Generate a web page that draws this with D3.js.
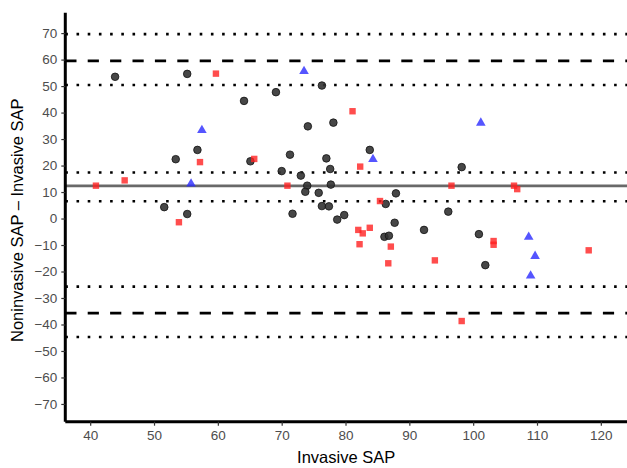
<!DOCTYPE html>
<html><head><meta charset="utf-8">
<script src="https://cdn.jsdelivr.net/npm/d3@7"></script>
<style>body{margin:0;background:#fff;}svg{display:block;font-family:"Liberation Sans",Arial,sans-serif;}</style>
</head><body><svg id="c" width="627" height="468"></svg>
<script>
const xTicks = [40,50,60,70,80,90,100,110,120];
const yTicks = [-70,-60,-50,-40,-30,-20,-10,0,10,20,30,40,50,60,70];
// group 1: dark circles
const circX = [43.9,55.2,56.8,53.4,69.1,64.1,76.3,74.1,78.1,71.3,65.1,77.0,77.6,70.0,73.0,83.8,98.2,74.0,77.7,73.7,75.8,76.3,77.4,71.7,78.7,79.8,51.6,55.2,87.9,86.3,87.7,86.1,86.8,92.3,96.1,100.9,101.9];
const circY = [53.5,54.6,25.9,22.4,47.7,44.4,50.2,34.8,36.2,24.1,21.6,22.7,18.7,17.9,16.2,25.9,19.4,12.4,12.8,10.1,9.7,4.7,4.6,1.8,-0.4,1.3,4.3,1.7,9.5,5.5,-1.6,-6.9,-6.5,-4.3,2.6,-5.9,-17.6];
// group 2: red squares
const sqX = [40.9,45.4,53.9,57.2,59.7,65.7,70.9,81.1,82.3,96.6,106.4,106.9,85.4,82.0,82.7,83.8,82.2,87.1,86.7,94.0,103.2,103.2,118.1,98.2];
const sqY = [12.4,14.4,-1.4,21.3,54.7,22.5,12.4,40.5,19.6,12.4,12.4,11.1,6.6,-4.3,-5.6,-3.5,-9.7,-10.6,-16.9,-15.8,-8.5,-9.9,-12.0,-38.7];
// group 3: blue triangles
const triX = [57.5,55.8,73.5,84.3,101.2,108.7,109.7,109.0];
const triY = [33.3,13.1,55.6,22.4,36.1,-7.0,-14.2,-21.6];
// Bland-Altman reference lines
const meanDiff = 12.3;
const meanCI = [6.5,17.4];
const loa = [-35.7,59.5];
const loaCI = [-44.7,-25.7,50.4,69.6];

const svg = d3.select("#c");
const L=65.3, R=627, T=12.7, B=421.7;
const x = d3.scaleLinear().domain([36.1,124.1]).range([L,R]);
const y = d3.scaleLinear().domain([-76.7,77.7]).range([B,T]);

const g = svg.append("g");
function hline(v, cls){
  const l = g.append("line").attr("x1",L).attr("x2",R).attr("y1",y(v)).attr("y2",y(v));
  if(cls==="dot") l.attr("stroke","#000").attr("stroke-width",2.6).attr("stroke-dasharray","2.6 8.6");
  else if(cls==="dash") l.attr("stroke","#000").attr("stroke-width",2.8).attr("stroke-dasharray","11.2 11.2");
  else l.attr("stroke","#595959").attr("stroke-width",2.8).attr("stroke-opacity",0.9);
}
loaCI.forEach(v=>hline(v,"dot"));
meanCI.forEach(v=>hline(v,"dot"));
loa.forEach(v=>hline(v,"dash"));
hline(meanDiff,"mean");

g.selectAll("circle.p").data(d3.range(circX.length)).join("circle")
  .attr("cx",i=>x(circX[i])).attr("cy",i=>y(circY[i])).attr("r",3.8)
  .attr("fill","#333").attr("fill-opacity",0.9).attr("stroke","#111").attr("stroke-width",0.8);
const s=6.4;
g.selectAll("rect.p").data(d3.range(sqX.length)).join("rect")
  .attr("x",i=>x(sqX[i])-s/2).attr("y",i=>y(sqY[i])-s/2).attr("width",s).attr("height",s)
  .attr("fill","#ff2020").attr("fill-opacity",0.8);
const tri = d3.symbol().type(d3.symbolTriangle).size(40);
g.selectAll("path.p").data(d3.range(triX.length)).join("path")
  .attr("d",tri).attr("transform",i=>`translate(${x(triX[i])},${y(triY[i])})`)
  .attr("fill","#2a2aff").attr("fill-opacity",0.8);

const xa = svg.append("g").attr("transform",`translate(0,${B})`)
  .call(d3.axisBottom(x).tickValues(xTicks).tickSize(4).tickPadding(5).tickFormat(d3.format("d")));
const ya = svg.append("g").attr("transform",`translate(${L},0)`)
  .call(d3.axisLeft(y).tickValues(yTicks).tickSize(4).tickPadding(4).tickFormat(d3.format("d")));
[xa,ya].forEach(a=>{
  a.select(".domain").attr("stroke","#000").attr("stroke-width",3);
  a.selectAll(".tick line").attr("stroke","#333").attr("stroke-width",1.2);
  a.selectAll(".tick text").attr("fill","#4d4d4d").attr("font-size",13.5);
});
xa.select(".domain").attr("d",`M${L},0H${R}`);
ya.select(".domain").attr("d",`M0,${T}V${B}`);

svg.append("text").attr("x",(L+R)/2).attr("y",463).attr("text-anchor","middle")
  .attr("font-size",16.5).attr("fill","#000").text("Invasive SAP");
svg.append("text").attr("transform",`translate(23,${(T+B)/2+3}) rotate(-90)`).attr("text-anchor","middle")
  .attr("font-size",16.5).attr("fill","#000").text("Noninvasive SAP – Invasive SAP");
</script></body></html>
